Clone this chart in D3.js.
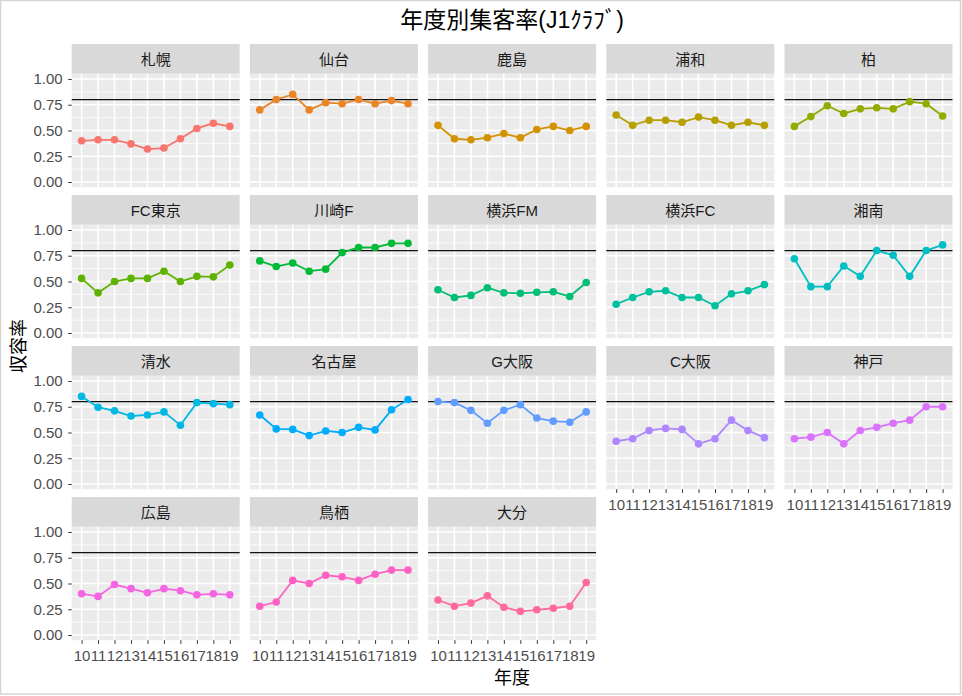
<!DOCTYPE html>
<html><head><meta charset="utf-8">
<script src="https://cdn.jsdelivr.net/npm/d3@7/dist/d3.min.js"></script>
<style>body{margin:0;background:#fff}</style>
</head><body>
<script>
// ---- data ----
const years = ["10","11","12","13","14","15","16","17","18","19"];
const clubs = ["札幌","仙台","鹿島","浦和","柏","FC東京","川崎F","横浜FM","横浜FC","湘南","清水","名古屋","G大阪","C大阪","神戸","広島","鳥栖","大分"];
const sapporo   = [0.40,0.41,0.41,0.37,0.32,0.33,0.42,0.52,0.57,0.54];
const sendai    = [0.70,0.80,0.85,0.70,0.77,0.76,0.80,0.76,0.79,0.76];
const kashima   = [0.55,0.42,0.41,0.43,0.47,0.43,0.51,0.54,0.50,0.54];
const urawa     = [0.65,0.55,0.60,0.60,0.58,0.63,0.60,0.55,0.58,0.55];
const kashiwa   = [0.54,0.635,0.74,0.665,0.71,0.72,0.71,0.78,0.76,0.64];
const fctokyo   = [0.53,0.39,0.50,0.53,0.53,0.60,0.50,0.55,0.545,0.66];
const kawasaki  = [0.70,0.645,0.68,0.60,0.62,0.78,0.83,0.83,0.87,0.87];
const yokohamaFM= [0.42,0.345,0.365,0.44,0.39,0.385,0.395,0.40,0.355,0.49];
const yokohamaFC= [0.28,0.345,0.40,0.41,0.345,0.345,0.265,0.38,0.41,0.47];
const shonan    = [0.72,0.45,0.45,0.65,0.55,0.80,0.755,0.55,0.80,0.855];
const shimizu   = [0.85,0.745,0.71,0.66,0.67,0.70,0.57,0.79,0.78,0.77];
const nagoya    = [0.67,0.535,0.53,0.47,0.515,0.50,0.55,0.525,0.72,0.82];
const gosaka    = [0.80,0.79,0.715,0.59,0.715,0.77,0.64,0.61,0.60,0.70];
const cosaka    = [0.415,0.44,0.52,0.54,0.53,0.39,0.44,0.62,0.52,0.45];
const kobe      = [0.44,0.455,0.50,0.39,0.52,0.55,0.59,0.62,0.75,0.75];
const hiroshima = [0.40,0.375,0.49,0.45,0.41,0.45,0.43,0.39,0.40,0.39];
const tosu      = [0.28,0.32,0.53,0.50,0.58,0.565,0.53,0.59,0.63,0.63];
const oita      = [0.34,0.28,0.31,0.38,0.27,0.23,0.245,0.26,0.28,0.51];
const seriesValues = [sapporo,sendai,kashima,urawa,kashiwa,fctokyo,kawasaki,yokohamaFM,yokohamaFC,shonan,shimizu,nagoya,gosaka,cosaka,kobe,hiroshima,tosu,oita];
const yTicks = [0,0.25,0.5,0.75,1];
const yMinor = [0.125,0.375,0.625,0.875];
const refValue = 0.8;
const titleText = "年度別集客率(J1ｸﾗﾌﾞ)";
const xTitle = "年度";
const yTitle = "収容率";

// ---- ggplot-like hue palette (R hcl) ----
function rhcl(h, c, l) {
  const WU = 0.1978398, WV = 0.4683363;
  const hr = h * Math.PI / 180;
  const U = c * Math.cos(hr), V = c * Math.sin(hr);
  const Y = (l > 7.999592) ? Math.pow((l + 16) / 116, 3) : l / 903.3;
  const u = U / (13 * l) + WU, v = V / (13 * l) + WV;
  const X = 9 * Y * u / (4 * v);
  const Z = -X / 3 - 5 * Y + 3 * Y / v;
  const g = t => t > 0.00304 ? 1.055 * Math.pow(t, 1 / 2.4) - 0.055 : 12.92 * t;
  const cl = t => Math.max(0, Math.min(1, t));
  const R = cl(g(3.240479 * X - 1.537150 * Y - 0.498535 * Z));
  const G = cl(g(-0.969256 * X + 1.875992 * Y + 0.041556 * Z));
  const B = cl(g(0.055648 * X - 0.204043 * Y + 1.057311 * Z));
  return d3.rgb(Math.round(R * 255), Math.round(G * 255), Math.round(B * 255)).formatHex();
}
const n = clubs.length;
const palette = d3.range(n).map(i => rhcl(15 + i * (360 / n), 100, 65));
const color = d3.scaleOrdinal().domain(clubs).range(palette);

// ---- layout ----
const W = 962, H = 696;
const left0 = 71.7, panelW = 168, gapX = 10.2, top0 = 44, stripH = 29.8, panelH = 113.4, rowStep = 151;
const ncol = 5;
const latin = "'Liberation Sans', Arial, 'Noto Sans CJK JP', sans-serif";
const cjk = "'Noto Sans CJK JP', 'Liberation Sans', sans-serif";

const svg = d3.select("body").append("svg").attr("width", W).attr("height", H);
svg.append("rect").attr("width", W).attr("height", H).attr("fill", "#fff");
svg.append("rect").attr("x", 0.5).attr("y", 0.5).attr("width", W - 2).attr("height", H - 2.5)
  .attr("fill", "none").attr("stroke", "#d4d4d4").attr("stroke-width", 1.5);

const x = d3.scalePoint().domain(years).range([0, panelW]).padding(0.6);
const y = d3.scaleLinear().domain([-0.05, 1.05]).range([panelH, 0]);

const lastInCol = {};
clubs.forEach((c, i) => { lastInCol[i % ncol] = i; });

clubs.forEach((club, i) => {
  const col = i % ncol, row = Math.floor(i / ncol);
  const g = svg.append("g").attr("transform", `translate(${left0 + col * (panelW + gapX)},${top0 + row * rowStep})`);
  g.append("rect").attr("width", panelW).attr("height", stripH).attr("fill", "#d9d9d9");
  g.append("text").attr("x", panelW / 2).attr("y", stripH / 2 + 1).attr("text-anchor", "middle")
    .attr("dominant-baseline", "central").attr("font-family", latin).attr("font-size", 15)
    .attr("fill", "#1a1a1a").text(club);
  const p = g.append("g").attr("transform", `translate(0,${stripH})`);
  p.append("rect").attr("width", panelW).attr("height", panelH).attr("fill", "#ebebeb");
  p.selectAll(".minor").data(yMinor).join("line")
    .attr("x1", 0).attr("x2", panelW).attr("y1", d => y(d)).attr("y2", d => y(d))
    .attr("stroke", "#fff").attr("stroke-width", 0.8);
  p.selectAll(".major").data(yTicks).join("line")
    .attr("x1", 0).attr("x2", panelW).attr("y1", d => y(d)).attr("y2", d => y(d))
    .attr("stroke", "#fff").attr("stroke-width", 1.6);
  p.selectAll(".vx").data(years).join("line")
    .attr("x1", d => x(d)).attr("x2", d => x(d)).attr("y1", 0).attr("y2", panelH)
    .attr("stroke", "#fff").attr("stroke-width", 1.6);
  p.append("line").attr("x1", 0).attr("x2", panelW).attr("y1", y(refValue)).attr("y2", y(refValue))
    .attr("stroke", "#111").attr("stroke-width", 1.2);
  const vals = seriesValues[i];
  const pts = years.map((yr, k) => ({yr, v: vals[k]}));
  p.append("path").datum(pts)
    .attr("d", d3.line().x(d => x(d.yr)).y(d => y(d.v)))
    .attr("fill", "none").attr("stroke", color(club)).attr("stroke-width", 1.8);
  p.selectAll("circle").data(pts).join("circle")
    .attr("cx", d => x(d.yr)).attr("cy", d => y(d.v)).attr("r", 3.8).attr("fill", color(club));

  if (col === 0) {
    const ax = p.append("g").call(d3.axisLeft(y).tickValues(yTicks).tickFormat(d3.format(".2f")).tickSize(3.5).tickPadding(5.5));
    ax.select(".domain").remove();
    ax.selectAll("line").attr("stroke", "#333").attr("stroke-width", 1);
    ax.selectAll("text").attr("fill", "#4d4d4d").attr("font-size", 15).attr("font-family", latin);
  }
  if (lastInCol[col] === i) {
    const ax = p.append("g").attr("transform", `translate(0,${panelH})`)
      .call(d3.axisBottom(x).tickSize(3.7).tickPadding(6.8));
    ax.select(".domain").remove();
    ax.selectAll("line").attr("stroke", "#333").attr("stroke-width", 1);
    ax.selectAll("text").attr("fill", "#4d4d4d").attr("font-size", 15).attr("font-family", latin);
  }
});

const totalW = ncol * panelW + (ncol - 1) * gapX;
const cx = left0 + totalW / 2;
svg.append("text").attr("x", cx).attr("y", 20).attr("text-anchor", "middle").attr("dominant-baseline", "central")
  .attr("font-family", latin).attr("font-size", 23).attr("fill", "#000").text(titleText);
svg.append("text").attr("x", cx).attr("y", 676).attr("text-anchor", "middle").attr("dominant-baseline", "central")
  .attr("font-family", cjk).attr("font-size", 18).attr("fill", "#000").text(xTitle);
svg.append("text").attr("transform", `translate(17,346) rotate(-90)`).attr("text-anchor", "middle")
  .attr("dominant-baseline", "central").attr("font-family", cjk).attr("font-size", 18).attr("fill", "#000").text(yTitle);
</script>
</body></html>
